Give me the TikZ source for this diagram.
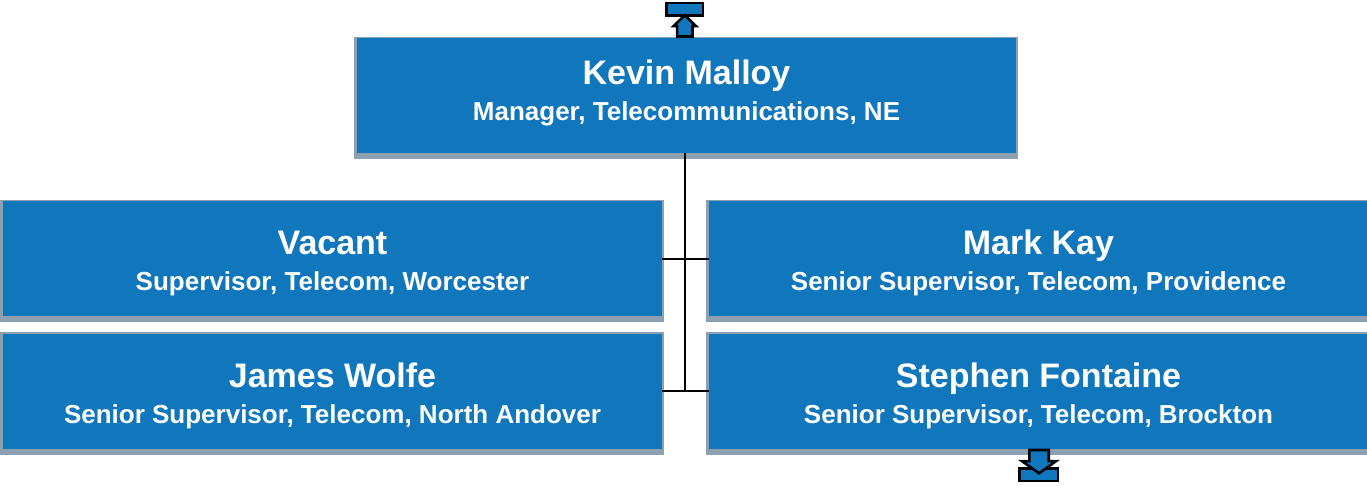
\documentclass[tikz,border=0pt]{standalone}
\usepackage{fontspec}
\setmainfont{Liberation Sans}
\usetikzlibrary{backgrounds}
\definecolor{unitblue}{RGB}{17,119,189}
\definecolor{shadowgray}{RGB}{140,160,178}
\newcommand\NameSize{\fontsize{34}{36}\selectfont}
\newcommand\TitleSize{\fontsize{26}{36}\selectfont}

\begin{document}
\begin{tikzpicture}[x=1pt,y=-1pt,
    unitbox/.style={rectangle,fill=unitblue,text=white,inner sep=0pt,
        minimum width=659pt,minimum height=115pt,align=center,
        font=\TitleSize\bfseries,text height=69pt,text depth=5pt},
    link/.style={line width=2pt},
    flag/.style={fill=unitblue,draw=black,line width=2.6pt,line join=miter}]
        \useasboundingbox (0,0) rectangle (1367,485);
        \node[unitbox,text height=55pt] (malloy) at (686.5,95.5) {{\NameSize Kevin Malloy}\\Manager, Telecommunications, NE};
        \node[unitbox] (vacant) at (332.5,258.5) {{\NameSize Vacant}\\Supervisor, Telecom, Worcester};
        \node[unitbox] (kay) at (1038.5,258.5) {{\NameSize Mark Kay}\\Senior Supervisor, Telecom, Providence};
        \node[unitbox] (wolfe) at (332.5,391) {{\NameSize James Wolfe}\\Senior Supervisor, Telecom, North Andover};
        \node[unitbox] (fontaine) at (1038.5,391) {{\NameSize Stephen Fontaine}\\Senior Supervisor, Telecom, Brockton};
        \begin{scope}[on background layer]
            \foreach \n in {malloy,vacant,kay,wolfe,fontaine}
                \fill[shadowgray] ([xshift=-3pt,yshift=1pt]\n.north west) rectangle ([xshift=2pt,yshift=-6pt]\n.south east);
        \end{scope}
        % reporting lines
        \draw[link] ([xshift=-1.5pt]malloy.south) -- ([xshift=-1.5pt]malloy.south |- wolfe.east);
        \draw[link] (vacant.east) -- (kay.west);
        \draw[link] (wolfe.east) -- (fontaine.west);
        % up / down markers
        \begin{scope}[shift={(malloy.north)}]
            \draw[flag] (-20.2,-35) rectangle (16.5,-22.6);
            \draw[flag] (-9.4,-1.3) -- (-9.4,-11.7) -- (-12.9,-11.7) -- (-1.7,-22.6) -- (9.5,-11.7) -- (6,-11.7) -- (6,-1.3) -- cycle;
        \end{scope}
        \begin{scope}[shift={(fontaine.south)}]
            \draw[flag] (-18.9,19.6) rectangle (19.5,32.4);
            \draw[flag] (-9.2,1.3) -- (-9.2,12.4) -- (-16.5,12.4) -- (0.5,24.6) -- (17.5,12.4) -- (10.2,12.4) -- (10.2,1.3) -- cycle;
        \end{scope}
    \end{tikzpicture}
\end{document}
